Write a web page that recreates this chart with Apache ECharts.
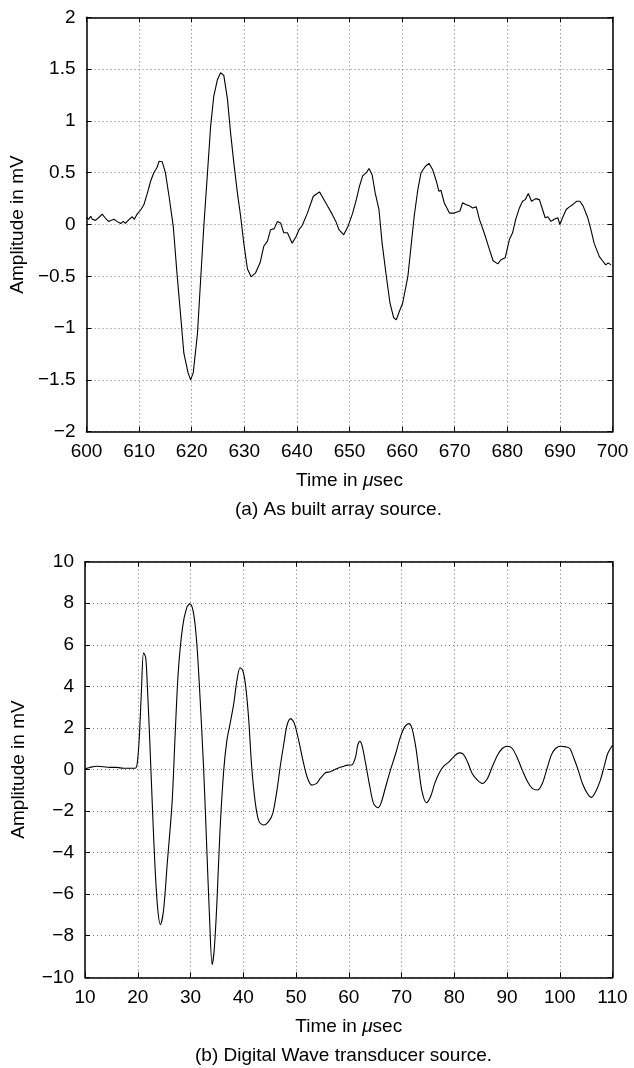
<!DOCTYPE html>
<html>
<head>
<meta charset="utf-8">
<script src="https://cdn.jsdelivr.net/npm/echarts@6/dist/echarts.min.js"></script>
<style>
  html, body { margin: 0; padding: 0; background: #fff; }
  #main { width: 634px; height: 1068px; }
</style>
</head>
<body>
<div id="main"></div>
<script>
// (a) as built array source
var timeA = [600.0, 600.4, 600.8, 601.1, 601.7, 602.3, 603.0, 603.6, 604.2, 605.2, 605.8, 606.5, 607.0, 607.4, 608.1, 608.7, 609.1, 609.6,
  610.3, 610.9, 611.5, 612.2, 612.8, 613.4, 613.8, 614.4, 615.0, 615.7, 616.5, 617.2, 617.9, 618.5, 619.3, 619.8,
  620.3, 621.1, 621.7, 622.3, 623.0, 623.6, 624.2, 624.9, 625.5, 626.1, 626.8, 627.4, 628.0, 628.7, 629.3, 629.9,
  630.6, 631.3, 632.1, 633.0, 633.7, 634.4, 635.0, 635.7, 636.3, 636.9, 637.5, 638.2, 639.1, 639.8,
  640.4, 641.0, 642.0, 643.1, 643.6, 644.3, 644.8, 645.8, 646.7, 647.4, 648.0, 648.9, 649.7,
  650.6, 651.3, 651.9, 652.5, 653.2, 653.7, 654.3, 654.9, 655.6, 656.2, 657.0, 657.7, 658.4, 658.9, 659.4,
  660.1, 661.1, 661.7, 662.3, 663.0, 663.6, 664.4, 665.1, 665.8, 666.5, 667.0, 667.4, 668.0, 669.0, 669.9,
  671.0, 671.5, 672.2, 672.8, 673.4, 674.1, 674.7, 675.6, 676.6, 677.3, 678.2, 678.8, 679.6,
  680.4, 681.0, 681.6, 682.3, 682.9, 683.4, 684.0, 684.6, 685.4, 686.1, 686.7, 687.2, 687.7, 688.3, 688.9, 689.6,
  690.0, 690.5, 691.2, 691.8, 692.4, 693.2, 693.8, 694.4, 695.3, 695.9, 696.5, 697.5, 698.1, 698.7, 699.2, 699.7];
var ampA = [0.07, 0.05, 0.08, 0.05, 0.04, 0.065, 0.10, 0.06, 0.03, 0.05, 0.03, 0.01, 0.03, 0.01, 0.05, 0.075, 0.05, 0.10,
  0.14, 0.19, 0.29, 0.42, 0.50, 0.55, 0.61, 0.605, 0.50, 0.27, -0.02, -0.47, -0.88, -1.24, -1.43, -1.50,
  -1.43, -1.05, -0.53, -0.02, 0.50, 0.95, 1.24, 1.40, 1.465, 1.44, 1.21, 0.88, 0.60, 0.30, 0.08, -0.18,
  -0.43, -0.505, -0.47, -0.37, -0.21, -0.16, -0.05, -0.04, 0.03, 0.015, -0.08, -0.08, -0.18, -0.12,
  -0.05, -0.01, 0.11, 0.27, 0.29, 0.315, 0.27, 0.18, 0.10, 0.03, -0.05, -0.10, -0.02,
  0.11, 0.24, 0.37, 0.47, 0.50, 0.54, 0.48, 0.30, 0.145, -0.18, -0.50, -0.76, -0.90, -0.92, -0.85,
  -0.76, -0.50, -0.21, 0.08, 0.34, 0.50, 0.56, 0.59, 0.53, 0.42, 0.32, 0.33, 0.21, 0.11, 0.11,
  0.13, 0.21, 0.19, 0.18, 0.16, 0.17, 0.05, -0.08, -0.24, -0.35, -0.38, -0.34, -0.32,
  -0.145, -0.08, 0.05, 0.16, 0.225, 0.24, 0.30, 0.225, 0.25, 0.24, 0.145, 0.065, 0.075, 0.03, 0.05, 0.065,
  0.0, 0.065, 0.145, 0.17, 0.19, 0.225, 0.225, 0.18, 0.065, -0.05, -0.18, -0.31, -0.35, -0.39, -0.37, -0.39];

// (b) digital wave transducer source
var timeB = [10.0, 10.9, 12.2, 13.5, 14.7, 16.0, 17.3, 18.5, 19.5, 19.9, 20.3, 20.7, 21.1, 21.5, 21.8, 22.3, 22.8, 23.3, 23.8, 24.3, 24.9,
  25.6, 26.5, 27.1, 27.7, 28.5, 29.3, 29.9, 30.6, 31.2, 31.8, 32.5, 33.1, 33.6, 34.1, 34.5, 35.0, 35.6, 36.3, 36.9, 37.5,
  38.2, 38.8, 39.4, 39.9, 40.4, 41.0, 41.6, 42.3, 43.0, 43.9, 44.8, 45.6, 46.4, 47.0, 47.7, 48.3, 49.0, 49.7,
  50.5, 51.3, 52.1, 53.0, 53.9, 54.6, 55.6, 56.5, 57.8, 59.1, 59.7, 60.6, 61.3, 61.7, 62.1, 62.5, 63.2, 64.0, 64.7,
  65.5, 66.1, 67.0, 67.9, 68.9, 69.8, 70.6, 71.4, 72.0, 72.7, 73.3, 73.9, 74.7, 75.5, 76.3, 77.1, 78.0, 79.0, 79.9,
  80.9, 81.7, 82.5, 83.4, 84.4, 85.3, 86.3, 87.2, 88.2, 89.1, 90.1, 91.0, 92.0, 92.9, 93.9, 94.8, 95.8, 96.7, 97.5, 98.4, 99.2,
  100.2, 101.1, 101.9, 102.7, 103.5, 104.3, 105.3, 106.0, 106.8, 107.7, 108.4, 109.1, 110.0];
var ampB = [0.03, 0.10, 0.16, 0.13, 0.10, 0.10, 0.06, 0.06, 0.06, 0.29, 1.57, 3.8, 5.62, 5.4, 4.13, 1.25, -1.95, -4.83, -6.75, -7.47, -6.75,
  -4.5, -1.63, 1.73, 4.77, 6.85, 7.8, 7.97, 7.49, 6.05, 3.5, -0.03, -3.87, -7.07, -9.39, -8.67, -6.43, -2.9, -0.03, 1.4, 2.2,
  3.17, 4.29, 4.9, 4.77, 4.13, 2.53, 0.13, -1.63, -2.51, -2.67, -2.51, -2.11, -0.99, 0.13, 1.25, 2.13, 2.45, 2.21,
  1.41, 0.45, -0.35, -0.75, -0.67, -0.43, -0.16, -0.11, 0.05, 0.16, 0.21, 0.22, 0.61, 1.17, 1.36, 1.17, 0.29, -0.83, -1.63,
  -1.84, -1.63, -0.83, -0.03, 0.77, 1.57, 2.05, 2.21, 1.97, 1.09, -0.03, -1.07, -1.6, -1.31, -0.67, -0.19, 0.16, 0.37, 0.61,
  0.8, 0.74, 0.37, -0.19, -0.51, -0.67, -0.43, 0.13, 0.69, 1.01, 1.12, 1.01, 0.53, -0.03, -0.59, -0.91, -0.99, -0.67, -0.03, 0.69, 1.01,
  1.12, 1.09, 1.01, 0.53, -0.03, -0.67, -1.18, -1.34, -1.07, -0.51, 0.13, 0.77, 1.17];

var captions = ['(a) As built array source.', '(b) Digital Wave transducer source.'];

function pairs(xs, ys) {
  return xs.map(function (x, i) { return [x, ys[i]]; });
}

var font = 'Liberation Sans, Arial, Helvetica, sans-serif';
var txt = { color: '#000', fontFamily: font, fontSize: 19 };
var frame = { show: true, onZero: false, lineStyle: { color: '#000', width: 1.5 } };
var ticksIn = { show: true, inside: true, length: 5, lineStyle: { color: '#000', width: 1 } };
var dotted = { show: true, lineStyle: { color: '#777', width: 1, type: [1, 3] } };
function minus(v) { return String(v).replace('-', '\u2212'); }

var xName = '{t|Time in }{m|\u03bc}{t|sec}';
var xNameStyle = {
  fontFamily: font, fontSize: 19, color: '#000',
  rich: { t: { fontFamily: font, fontSize: 19 }, m: { fontFamily: font, fontSize: 19, fontStyle: 'italic' } }
};

var grids = [
  { left: 86.5, right: 21.5, top: 17.3, height: 414.4 },
  { left: 85, right: 21.5, top: 561.7, height: 415.6 }
];
var xr = [[600, 700], [10, 110]];
var yr = [[-2, 2, 0.5], [-10, 10, 2]];

var xAxes = [], yAxes = [];
[0, 1].forEach(function (g) {
  xAxes.push({
    type: 'value', gridIndex: g, min: xr[g][0], max: xr[g][1], interval: 10,
    axisLine: frame, axisTick: ticksIn, splitLine: dotted,
    axisLabel: Object.assign({ margin: 11, formatter: minus }, txt),
    name: xName, nameLocation: 'middle', nameGap: 40, nameTextStyle: xNameStyle
  });
  xAxes.push({
    type: 'value', gridIndex: g, position: 'top', min: xr[g][0], max: xr[g][1], interval: 10,
    axisLine: frame, axisTick: ticksIn, splitLine: { show: false }, axisLabel: { show: false }
  });
  yAxes.push({
    type: 'value', gridIndex: g, min: yr[g][0], max: yr[g][1], interval: yr[g][2],
    axisLine: frame, axisTick: ticksIn, splitLine: dotted,
    axisLabel: Object.assign({ margin: 11, formatter: minus }, txt),
    name: 'Amplitude in mV', nameLocation: 'middle', nameGap: 57,
    nameTextStyle: { fontFamily: font, fontSize: 19, color: '#000' }
  });
  yAxes.push({
    type: 'value', gridIndex: g, position: 'right', min: yr[g][0], max: yr[g][1], interval: yr[g][2],
    axisLine: frame, axisTick: ticksIn, splitLine: { show: false }, axisLabel: { show: false }
  });
});

var chart = echarts.init(document.getElementById('main'), null, { renderer: 'canvas' });
chart.setOption({
  animation: false,
  backgroundColor: '#fff',
  grid: grids,
  xAxis: xAxes,
  yAxis: yAxes,
  graphic: [
    { type: 'text', left: 350 - 115, top: 500, style: Object.assign({ text: captions[0] }, { fill: '#000', font: '19px ' + font }) },
    { type: 'text', left: 350 - 155, top: 1046, style: Object.assign({ text: captions[1] }, { fill: '#000', font: '19px ' + font }) }
  ],
  series: [
    {
      type: 'line', xAxisIndex: 0, yAxisIndex: 0, data: pairs(timeA, ampA),
      showSymbol: false, smooth: false, lineStyle: { color: '#000', width: 1.1 }
    },
    {
      type: 'line', xAxisIndex: 2, yAxisIndex: 2, data: pairs(timeB, ampB),
      showSymbol: false, smooth: 0.3, lineStyle: { color: '#000', width: 1.1 }
    }
  ]
});
</script>
</body>
</html>
